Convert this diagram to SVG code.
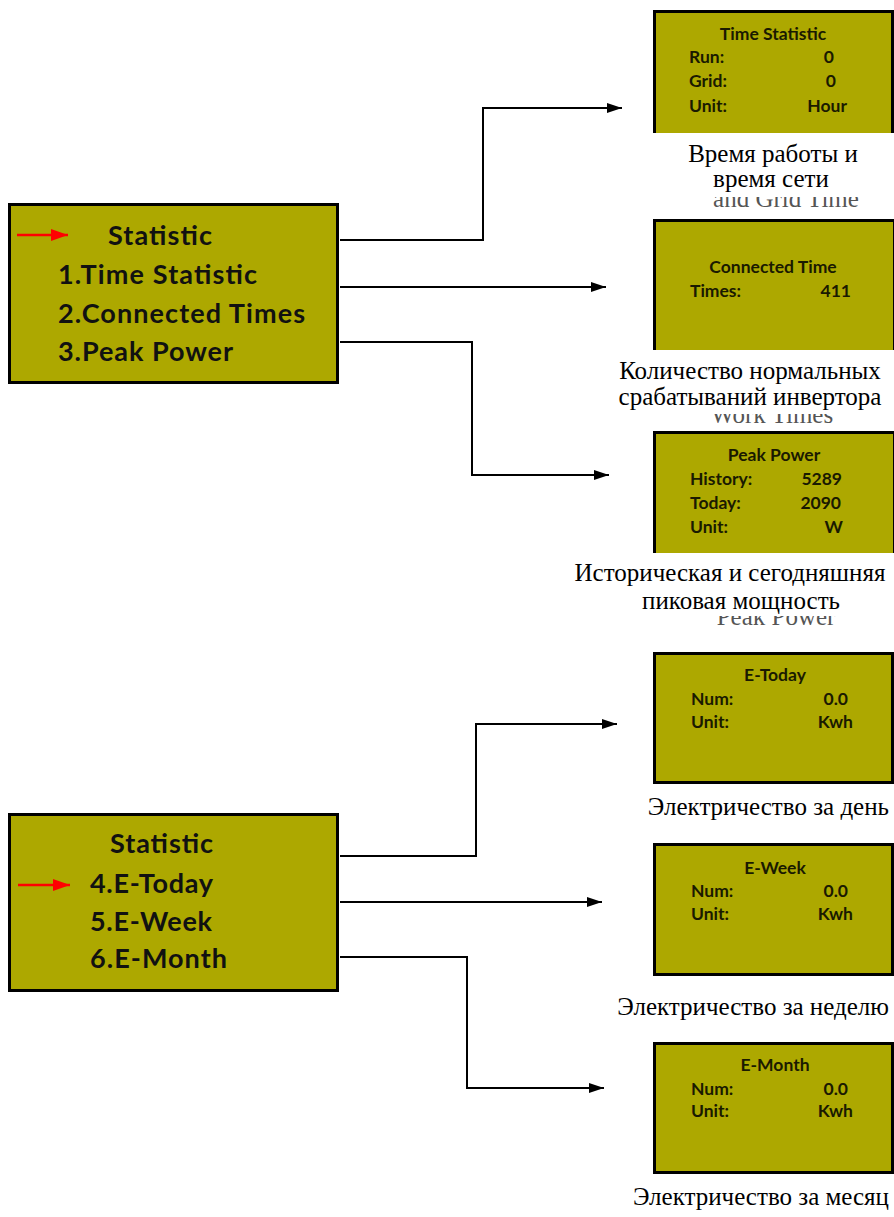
<svg xmlns="http://www.w3.org/2000/svg" width="894" height="1217" viewBox="0 0 894 1217">
<style>
.box{fill:#ADA800;stroke:#000;stroke-width:3}
.big{font-family:Lato,"Liberation Sans",sans-serif;font-weight:bold;font-size:27px;fill:#111}
.sm{font-family:Lato,"Liberation Sans",sans-serif;font-weight:bold;font-size:17.5px;fill:#1a1a00}
.lbl{font-family:"Liberation Serif","Times New Roman",serif;font-size:25px;fill:#000}
.rem{font-family:"Liberation Serif","Times New Roman",serif;font-size:25px;fill:#555}
.cover{fill:#fff}
.conn{fill:none;stroke:#000;stroke-width:2;marker-end:url(#ah)}
.red{stroke:#f00;stroke-width:2.5;marker-end:url(#rh)}
</style>
<defs>
<marker id="ah" viewBox="0 0 15 10" refX="15" refY="5" markerWidth="15" markerHeight="10" markerUnits="userSpaceOnUse" orient="auto"><path d="M0,0 L15,5 L0,10 Z" fill="#000"/></marker>
<marker id="rh" viewBox="0 0 17 12" refX="17" refY="6" markerWidth="17" markerHeight="12" markerUnits="userSpaceOnUse" orient="auto"><path d="M0,0 L17,6 L0,12 Z" fill="#f00"/></marker>
</defs>
<rect width="894" height="1217" fill="#fff"/>

<g id="connectors">
<polyline class="conn" points="340,240 483,240 483,108 622,108"/>
<polyline class="conn" points="340,287 606,287"/>
<polyline class="conn" points="340,342 472,342 472,475 609,475"/>
<polyline class="conn" points="340,856 476,856 476,724 617,724"/>
<polyline class="conn" points="340,902 602,902"/>
<polyline class="conn" points="340,957 467,957 467,1088 604,1088"/>
</g>

<g id="menu1">
<rect class="box" x="9.5" y="204.5" width="328" height="178"/>
<line class="red" x1="17" y1="235" x2="68" y2="235"/>
<text class="big" x="108" y="245" textLength="104">Statistic</text>
<text class="big" x="58" y="284" textLength="199">1.Time Statistic</text>
<text class="big" x="58" y="323" textLength="247">2.Connected Times</text>
<text class="big" x="58" y="361" textLength="175">3.Peak Power</text>
</g>

<g id="menu2">
<rect class="box" x="9.5" y="814.5" width="328" height="176"/>
<line class="red" x1="18" y1="885" x2="70" y2="885"/>
<text class="big" x="110" y="853" textLength="103">Statistic</text>
<text class="big" x="90" y="893" textLength="123">4.E-Today</text>
<text class="big" x="90" y="931" textLength="122">5.E-Week</text>
<text class="big" x="90" y="968" textLength="137">6.E-Month</text>
</g>

<g id="time-statistic">
<rect class="box" x="654.5" y="11.5" width="238" height="140"/>
<text class="sm" x="773" y="40" text-anchor="middle">Time Statistic</text>
<text class="sm" x="689" y="63">Run:</text>
<text class="sm" x="834" y="63" text-anchor="end">0</text>
<text class="sm" x="689" y="87">Grid:</text>
<text class="sm" x="836" y="87" text-anchor="end">0</text>
<text class="sm" x="689" y="112">Unit:</text>
<text class="sm" x="847" y="112" text-anchor="end">Hour</text>
<text class="rem" x="786" y="207" text-anchor="middle">and Grid Time</text>
<rect class="cover" x="651" y="133" width="243" height="64"/>
<text class="lbl" x="773" y="162" text-anchor="middle">Время работы и</text>
<text class="lbl" x="771" y="187" text-anchor="middle">время сети</text>
</g>

<g id="connected-time">
<rect class="box" x="654.5" y="220.5" width="240" height="150"/>
<text class="sm" x="773" y="273" text-anchor="middle">Connected Time</text>
<text class="sm" x="690" y="297">Times:</text>
<text class="sm" x="851" y="297" text-anchor="end">411</text>
<text class="rem" x="772" y="423" text-anchor="middle">Work Times</text>
<rect class="cover" x="600" y="350" width="294" height="64"/>
<text class="lbl" x="750" y="379" text-anchor="middle">Количество нормальных</text>
<text class="lbl" x="750" y="405" text-anchor="middle">срабатываний инвертора</text>
</g>

<g id="peak-power">
<rect class="box" x="654.5" y="432.5" width="240" height="140"/>
<text class="sm" x="774" y="461" text-anchor="middle">Peak Power</text>
<text class="sm" x="690" y="485">History:</text>
<text class="sm" x="842" y="485" text-anchor="end">5289</text>
<text class="sm" x="690" y="509">Today:</text>
<text class="sm" x="841" y="509" text-anchor="end">2090</text>
<text class="sm" x="690" y="533">Unit:</text>
<text class="sm" x="843" y="533" text-anchor="end">W</text>
<text class="rem" x="776" y="625" text-anchor="middle">Peak Power</text>
<rect class="cover" x="560" y="553" width="334" height="63"/>
<text class="lbl" x="730" y="581" text-anchor="middle">Историческая и сегодняшняя</text>
<text class="lbl" x="741" y="609" text-anchor="middle">пиковая мощность</text>
</g>

<g id="e-today">
<rect class="box" x="654.5" y="653.5" width="238" height="129"/>
<text class="sm" x="775" y="681" text-anchor="middle">E-Today</text>
<text class="sm" x="691" y="705">Num:</text>
<text class="sm" x="848" y="705" text-anchor="end">0.0</text>
<text class="sm" x="691" y="728">Unit:</text>
<text class="sm" x="853" y="728" text-anchor="end">Kwh</text>
<text class="lbl" x="889" y="815" text-anchor="end">Электричество за день</text>
</g>

<g id="e-week">
<rect class="box" x="654.5" y="844.5" width="238" height="130"/>
<text class="sm" x="775" y="874" text-anchor="middle">E-Week</text>
<text class="sm" x="691" y="897">Num:</text>
<text class="sm" x="848" y="897" text-anchor="end">0.0</text>
<text class="sm" x="691" y="920">Unit:</text>
<text class="sm" x="853" y="920" text-anchor="end">Kwh</text>
<text class="lbl" x="889" y="1015" text-anchor="end">Электричество за неделю</text>
</g>

<g id="e-month">
<rect class="box" x="654.5" y="1043.5" width="238" height="129"/>
<text class="sm" x="775" y="1071" text-anchor="middle">E-Month</text>
<text class="sm" x="691" y="1095">Num:</text>
<text class="sm" x="848" y="1095" text-anchor="end">0.0</text>
<text class="sm" x="691" y="1117">Unit:</text>
<text class="sm" x="853" y="1117" text-anchor="end">Kwh</text>
<text class="lbl" x="889" y="1205" text-anchor="end">Электричество за месяц</text>
</g>
</svg>
